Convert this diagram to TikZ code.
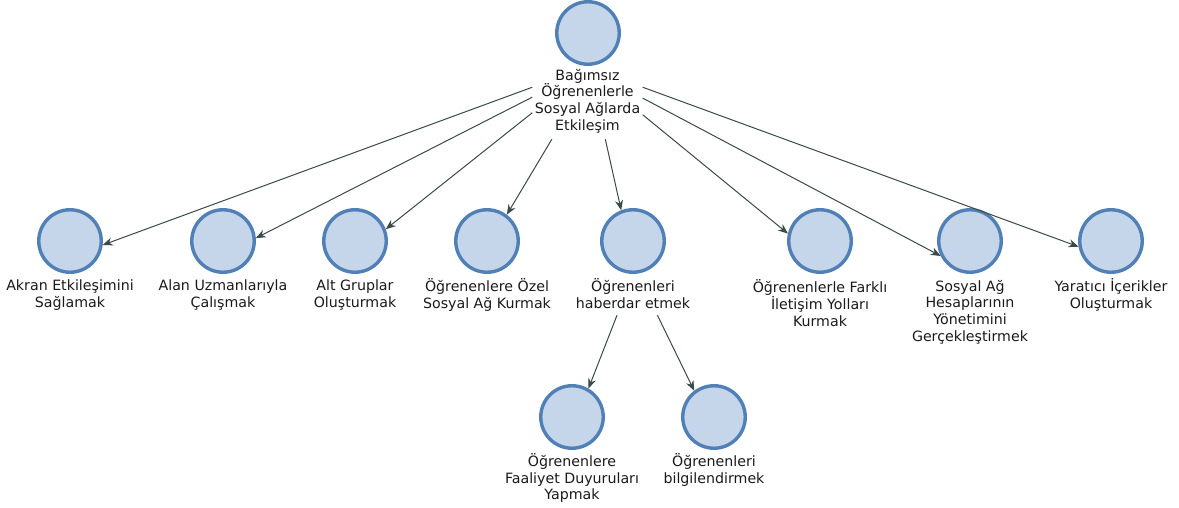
\documentclass[tikz,border=0pt]{standalone}
\usepackage{fontspec}
\setmainfont{DejaVu Sans}
\usetikzlibrary{arrows.meta}
\definecolor{circfill}{HTML}{C5D5EA}
\definecolor{circline}{HTML}{5080B6}
\definecolor{edgecol}{HTML}{3A4A47}
\definecolor{txtcol}{HTML}{1A1A1A}
\begin{document}
\begin{tikzpicture}[x=1pt,y=-1pt,
  circ/.style={circle, draw=circline, fill=circfill, line width=3.4pt, minimum size=62.5pt, inner sep=0pt},
  lbl/.style={align=center, font=\fontsize{14.2}{16.8}\selectfont, inner sep=0pt, text=txtcol},
  conn/.style={draw=edgecol, line width=1pt, -{Stealth[length=10pt,width=8pt]}}]
\useasboundingbox (0,0) rectangle (1179,508);
% root
\node[circ] (r0) at (588,33) {};
\node[lbl, minimum width=110pt, minimum height=76pt] (t0) at (587.5,101) {Bağımsız\\Öğrenenlerle\\Sosyal Ağlarda\\Etkileşim};
% level 2
\node[circ] (c1) at (70,241) {};
\node[lbl] (t1) at (70,295) {Akran Etkileşimini\\Sağlamak};
\node[circ] (c2) at (223,241) {};
\node[lbl] (t2) at (223,295) {Alan Uzmanlarıyla\\Çalışmak};
\node[circ] (c3) at (355,241) {};
\node[lbl] (t3) at (355,295) {Alt Gruplar\\Oluşturmak};
\node[circ] (c4) at (487,241) {};
\node[lbl] (t4) at (487,295) {Öğrenenlere Özel\\Sosyal Ağ Kurmak};
\node[circ] (c5) at (633,241) {};
\node[lbl, minimum height=42pt] (t5) at (633,294) {Öğrenenleri\\haberdar etmek};
\node[circ] (c6) at (820,241) {};
\node[lbl] (t6) at (820,303) {Öğrenenlerle Farklı\\İletişim Yolları\\Kurmak};
\node[circ] (c7) at (970,241) {};
\node[lbl] (t7) at (970,312) {Sosyal Ağ\\Hesaplarının\\Yönetimini\\Gerçekleştirmek};
\node[circ] (c8) at (1111,241) {};
\node[lbl] (t8) at (1111,295) {Yaratıcı İçerikler\\Oluşturmak};
% level 3
\node[circ] (c9) at (572,417) {};
\node[lbl] (t9) at (572,478) {Öğrenenlere\\Faaliyet Duyuruları\\Yapmak};
\node[circ] (c10) at (714,417) {};
\node[lbl] (t10) at (714,470) {Öğrenenleri\\bilgilendirmek};
% connectors
\draw[conn] (t0.166) -- (c1.353);
\draw[conn] (t0.176) -- (c2.5);
\draw[conn] (t0.192) -- (c3.21);
\draw[conn] (t0.227) -- (c4.53);
\draw[conn] (t0.295) -- (c5.111);
\draw[conn] (t0.346) -- (c6.167);
\draw[conn] (t0.3) -- (c7.207);
\draw[conn] (t0.14) -- (c8.190);
\draw[conn] (t5.233) -- (c9.60);
\draw[conn] (t5.319) -- (c10.127);
\end{tikzpicture}
\end{document}
